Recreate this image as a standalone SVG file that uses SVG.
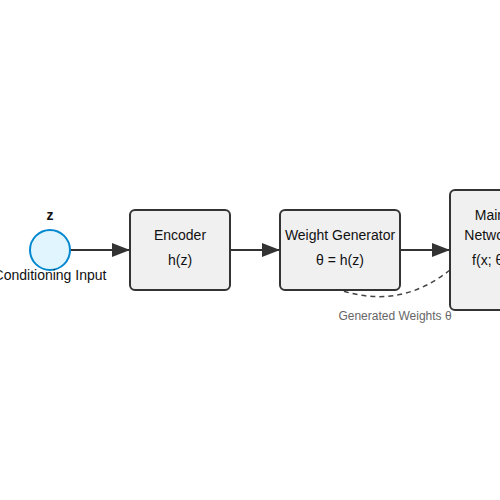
<svg xmlns="http://www.w3.org/2000/svg" width="500" height="500" viewBox="0 0 500 500">
<style>
text{font-family:"Liberation Sans",Arial,sans-serif;font-size:14px;fill:#111;text-anchor:middle}
.box{fill:#f0f0f0;stroke:#333;stroke-width:2}
.edge{stroke:#333;stroke-width:2;fill:none}
.dash{stroke:#444;stroke-width:1.5;fill:none;stroke-dasharray:5,4}
.small{font-size:12px;fill:#666}
</style>
<defs>
<marker id="arr" viewBox="0 0 10 10" refX="10" refY="5" markerWidth="9" markerHeight="9" markerUnits="userSpaceOnUse" orient="auto">
<path d="M0,0 L10,5 L0,10 z" fill="#333"/>
</marker>
<marker id="arrow" viewBox="0 0 18 14" refX="18" refY="7" markerWidth="18" markerHeight="14" markerUnits="userSpaceOnUse" orient="auto">
<path d="M0,0 L18,7 L0,14 z" fill="#333"/>
</marker>
</defs>
<rect width="500" height="500" fill="#fff"/>
<g id="connectors">
<line class="edge" x1="70" y1="250" x2="130" y2="250" marker-end="url(#arrow)"/>
<line class="edge" x1="230" y1="250" x2="280" y2="250" marker-end="url(#arrow)"/>
<line class="edge" x1="400" y1="250" x2="450" y2="250" marker-end="url(#arrow)"/>
<path class="dash" d="M450,270 Q400,310 340,290"/>
<text class="small" x="395" y="320">Generated Weights θ</text>
</g>
<g id="input">
<circle cx="50" cy="250" r="20" fill="#e1f5fe" stroke="#0288d1" stroke-width="2"/>
<text x="50" y="220" font-weight="bold">z</text>
<text x="50" y="280">Conditioning Input</text>
</g>
<g id="encoder">
<rect class="box" x="130" y="210" width="100" height="80" rx="5"/>
<text x="180" y="240">Encoder</text>
<text x="180" y="265">h(z)</text>
</g>
<g id="weight-generator">
<rect class="box" x="280" y="210" width="120" height="80" rx="5"/>
<text x="340" y="240">Weight Generator</text>
<text x="340" y="265">θ = h(z)</text>
</g>
<g id="main-network">
<rect class="box" x="450" y="190" width="80" height="120" rx="5"/>
<text x="490" y="220">Main</text>
<text x="490" y="240">Network</text>
<text x="490" y="265">f(x; θ)</text>
</g>
</svg>
